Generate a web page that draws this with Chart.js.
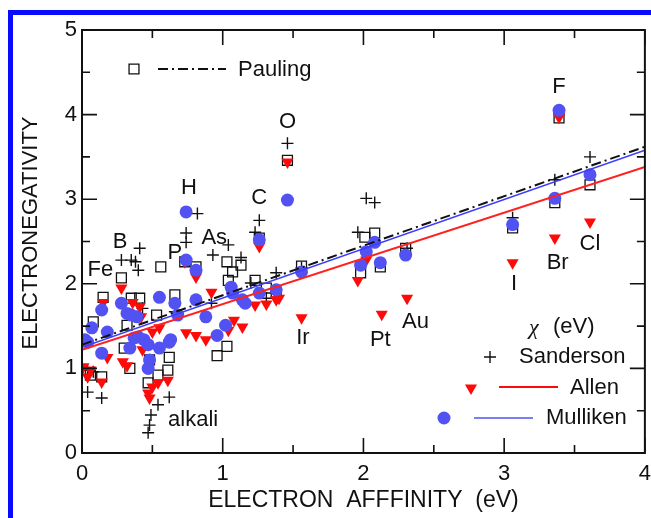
<!DOCTYPE html>
<html>
<head>
<meta charset="utf-8">
<script src="https://cdn.jsdelivr.net/npm/chart.js@4.4.1/dist/chart.umd.min.js"></script>
<style>
  html, body { margin: 0; padding: 0; background: #fff; overflow: hidden; }
  #wrap { position: relative; width: 651px; height: 518px; overflow: hidden; }
  #frame { position: absolute; left: 8px; top: 10px; width: 720px; height: 620px;
           border: 5px solid #0a0aff; box-sizing: border-box; }
  #chart { position: absolute; left: 0; top: 0; }
</style>
</head>
<body>
<div id="wrap">
  <div id="frame"></div>
  <!-- a bit wider than the page so the right frame edge and last tick label run off it -->
  <canvas id="chart" width="659" height="518"></canvas>
</div>
<script>
// electron affinity (eV) vs electronegativity, one [EA, chi] pair per element
const pauling = [
  [3.39,3.96],[3.61,3.17],[3.36,2.96],[3.06,2.66],[1.46,3.46],[1.26,2.54],[2.30,2.42],
  [2.08,2.60],[2.01,2.55],[1.98,2.13],[2.12,2.20],[1.56,2.21],[0.28,2.07],[0.15,1.84],
  [0.35,1.83],[0.41,1.83],[0.08,1.55],[0.32,1.51],[0.30,1.24],[0.34,1.00],[0.56,2.20],
  [0.66,1.87],[0.53,1.63],[0.47,0.83],[0.54,0.92],[0.61,0.98],[0.62,1.13],[0.96,1.15],
  [1.03,1.26],[1.03,2.26],[1.07,2.14],[1.04,2.04],[1.13,2.22],[1.23,2.04],[1.31,1.95],
  [1.38,1.90],[0.73,2.26],[0.81,2.20],[0.06,0.92],[0.14,0.90],[0.48,1.10]
];
const sanderson = [
  [3.39,4.02],[3.61,3.50],[3.36,3.23],[3.06,2.78],[1.46,3.66],[0.82,2.83],[1.26,2.75],
  [1.23,2.61],[1.56,2.19],[2.02,3.01],[2.08,2.96],[1.96,2.61],[2.31,2.42],[0.74,2.60],
  [0.74,2.49],[0.41,2.42],[0.28,2.28],[0.35,2.28],[0.38,2.26],[0.40,2.16],[0.93,2.34],
  [1.04,2.46],[1.13,2.31],[0.04,0.98],[0.08,0.96],[0.04,0.72],[0.14,0.65],[0.62,0.66],
  [0.54,0.57],[0.49,0.45],[0.48,0.33],[0.47,0.24],[0.66,1.67],[0.92,1.77],[0.43,1.71],
  [1.31,1.83],[1.38,2.13],[1.20,2.01]
];
const allen = [
  [3.39,3.97],[3.61,2.73],[3.36,2.54],[3.06,2.25],[1.46,3.44],[1.26,2.44],[1.56,1.60],
  [2.13,1.64],[2.31,1.83],[1.96,2.04],[2.02,2.28],[1.40,1.83],[0.73,2.26],[0.81,2.08],
  [0.28,1.95],[0.15,1.78],[0.36,1.78],[0.41,1.73],[0.42,1.61],[0.18,1.13],[0.29,1.08],
  [0.32,1.03],[0.04,0.90],[0.06,0.98],[0.01,1.02],[0.14,0.84],[0.43,1.22],[0.47,0.71],
  [0.48,0.65],[0.50,0.78],[0.54,0.83],[0.61,0.86],[0.74,1.42],[0.81,1.39],[0.88,1.34],
  [0.92,1.90],[1.04,1.45],[1.08,1.57],[1.14,1.49],[1.23,1.75],[1.31,1.76],[1.38,1.81],
  [1.06,1.90],[0.50,1.43],[0.55,1.48]
];
const mulliken = [
  [3.39,4.05],[3.61,3.29],[3.36,3.01],[3.06,2.70],[1.46,2.99],[0.74,2.85],[1.26,2.52],
  [1.56,2.14],[2.02,2.38],[2.08,2.49],[1.98,2.22],[2.12,2.25],[2.30,2.34],[0.74,2.28],
  [0.81,2.16],[0.14,1.69],[0.28,1.77],[0.32,1.65],[0.35,1.63],[0.39,1.61],[0.18,1.43],
  [0.04,1.31],[0.14,1.18],[0.34,1.24],[0.40,1.37],[0.44,1.34],[0.47,1.28],[0.48,1.10],
  [0.47,1.00],[0.55,1.24],[0.62,1.31],[0.55,1.84],[0.66,1.77],[0.68,1.63],[0.81,1.81],
  [0.88,1.61],[0.96,1.39],[1.02,1.51],[1.06,1.96],[1.07,1.89],[1.14,1.81],[1.16,1.77],
  [1.26,1.89],[1.38,1.93],[0.07,1.48],[0.02,1.34],[0.37,1.36],[0.63,1.34]
];

// linear fits, evaluated at both ends of the EA range
const fitEA = [0, 4];
const paulingFit = [1.28, 3.62];
const allenFit = [1.22, 3.38];
const mullikenFit = [1.25, 3.58];

// element names placed next to their points [text, EA, chi]
const elementLabels = [
  ['F',3.39,4.33],['O',1.46,3.91],['H',0.76,3.13],['C',1.26,3.01],['B',0.27,2.49],
  ['Fe',0.13,2.16],['P',0.66,2.36],['As',0.94,2.54],['Ir',1.57,1.36],['Pt',2.12,1.34],
  ['Au',2.37,1.55],['I',3.07,2.00],['Br',3.38,2.25],['Cl',3.61,2.47],['alkali',0.79,0.39]
];

const xRange = [0, 4];
const yRange = [0, 5];

const FONT = '"Liberation Sans", Arial, sans-serif';
const BLUE = '#5252f2';
const RED = '#ff0a0a';

const toXY = arr => arr.map(([x, y]) => ({ x, y }));
const fitLine = ys => fitEA.map((x, i) => ({ x, y: ys[i] }));

// inward tick marks on all four sides plus the closed frame
const frameTicks = {
  id: 'frameTicks',
  afterDraw(chart) {
    const { ctx, chartArea: a, scales: { x, y } } = chart;
    ctx.save();
    ctx.strokeStyle = '#111';
    ctx.lineWidth = 2;
    ctx.strokeRect(a.left, a.top, a.right - a.left, a.bottom - a.top);
    ctx.lineWidth = 1.6;
    ctx.beginPath();
    for (let v = xRange[0]; v <= xRange[1] + 1e-9; v += 0.5) {
      const px = x.getPixelForValue(v);
      const len = Number.isInteger(v) ? 15 : 8;
      ctx.moveTo(px, a.bottom); ctx.lineTo(px, a.bottom - len);
      ctx.moveTo(px, a.top); ctx.lineTo(px, a.top + len);
    }
    for (let v = yRange[0]; v <= yRange[1] + 1e-9; v += 0.5) {
      const py = y.getPixelForValue(v);
      const len = Number.isInteger(v) ? 15 : 8;
      ctx.moveTo(a.left, py); ctx.lineTo(a.left + len, py);
      ctx.moveTo(a.right, py); ctx.lineTo(a.right - len, py);
    }
    ctx.stroke();
    ctx.restore();
  }
};

// element names, the vertical axis title and the two legend blocks
const annotations = {
  id: 'annotations',
  afterDraw(chart) {
    const { ctx, scales: { x, y } } = chart;
    const dp = Chart.helpers.drawPoint;
    ctx.save();
    ctx.fillStyle = '#111';
    ctx.font = '22px ' + FONT;
    ctx.textBaseline = 'middle';
    ctx.textAlign = 'center';
    elementLabels.forEach(([t, ex, ey]) => {
      ctx.fillText(t, x.getPixelForValue(ex), y.getPixelForValue(ey));
    });

    // y title sits a little above the middle of the axis
    ctx.save();
    ctx.translate(31, 233);
    ctx.rotate(-Math.PI / 2);
    ctx.fillText('ELECTRONEGATIVITY', 0, 0);
    ctx.restore();

    // Pauling legend, upper left
    ctx.strokeStyle = '#111';
    ctx.fillStyle = 'rgba(0,0,0,0)';
    ctx.lineWidth = 1.3;
    dp(ctx, { pointStyle: 'rect', radius: 7, borderWidth: 1.3 }, 134, 69);
    ctx.lineWidth = 2;
    ctx.setLineDash([10, 4, 2, 4]);
    ctx.beginPath(); ctx.moveTo(158, 69); ctx.lineTo(226, 69); ctx.stroke();
    ctx.setLineDash([]);
    ctx.fillStyle = '#111';
    ctx.textAlign = 'left';
    ctx.fillText('Pauling', 238, 70);

    // chi (eV) legend, lower right
    ctx.font = 'italic 22px "Liberation Serif", serif';
    ctx.fillText('\u03c7', 529, 328);
    ctx.font = '22px ' + FONT;
    ctx.fillText('(eV)', 553, 327);
    ctx.fillText('Sanderson', 519, 357);
    ctx.fillText('Allen', 570, 388);
    ctx.fillText('Mulliken', 546, 418);

    ctx.strokeStyle = '#111';
    ctx.lineWidth = 1.4;
    dp(ctx, { pointStyle: 'cross', radius: 6, borderWidth: 1.4 }, 490, 357);

    ctx.fillStyle = RED; ctx.strokeStyle = RED;
    dp(ctx, { pointStyle: 'triangle', radius: 7, rotation: 180, borderWidth: 0 }, 471, 388);
    ctx.lineWidth = 2;
    ctx.beginPath(); ctx.moveTo(499, 387); ctx.lineTo(558, 387); ctx.stroke();

    ctx.fillStyle = BLUE; ctx.strokeStyle = BLUE;
    dp(ctx, { pointStyle: 'circle', radius: 6.5, borderWidth: 0 }, 444, 418);
    ctx.lineWidth = 1.5;
    ctx.beginPath(); ctx.moveTo(474, 418); ctx.lineTo(533, 418); ctx.stroke();
    ctx.restore();
  }
};

new Chart(document.getElementById('chart'), {
  type: 'scatter',
  data: {
    datasets: [
      {
        label: 'Pauling fit', type: 'line', data: fitLine(paulingFit), order: 0,
        borderColor: '#111', borderWidth: 2, borderDash: [10, 4, 2, 4],
        pointRadius: 0, fill: false
      },
      {
        label: 'Mulliken fit', type: 'line', data: fitLine(mullikenFit), order: 0,
        borderColor: '#3c3cff', borderWidth: 1.5, pointRadius: 0, fill: false
      },
      {
        label: 'Allen fit', type: 'line', data: fitLine(allenFit), order: 0,
        borderColor: '#ff2020', borderWidth: 2, pointRadius: 0, fill: false
      },
      {
        label: 'Mulliken', data: toXY(mulliken), order: 1,
        pointStyle: 'circle', pointRadius: 6.5, borderWidth: 0,
        backgroundColor: BLUE, borderColor: BLUE
      },
      {
        label: 'Allen', data: toXY(allen), order: 2,
        pointStyle: 'triangle', pointRotation: 180, pointRadius: 7, borderWidth: 0,
        backgroundColor: RED, borderColor: RED
      },
      {
        label: 'Sanderson', data: toXY(sanderson), order: 3,
        pointStyle: 'cross', pointRadius: 6, borderWidth: 1.4, borderColor: '#111'
      },
      {
        label: 'Pauling', data: toXY(pauling), order: 4,
        pointStyle: 'rect', pointRadius: 7, borderWidth: 1.3,
        borderColor: '#111', backgroundColor: 'rgba(0,0,0,0)'
      }
    ]
  },
  options: {
    responsive: false,
    animation: false,
    devicePixelRatio: 1,
    layout: { padding: { top: 30, right: 0, left: 0, bottom: 0 } },
    plugins: { legend: { display: false }, tooltip: { enabled: false } },
    scales: {
      x: {
        type: 'linear', min: xRange[0], max: xRange[1],
        afterFit(s) { s.height = 65; },
        grid: { display: false, drawTicks: false },
        border: { display: false },
        ticks: { stepSize: 1, padding: 8, color: '#111', font: { family: FONT, size: 22 } },
        title: {
          display: true, text: 'ELECTRON  AFFFINITY  (eV)', color: '#111',
          font: { family: FONT, size: 23 }, padding: { top: 0, bottom: 4 }
        }
      },
      y: {
        type: 'linear', min: yRange[0], max: yRange[1],
        afterFit(s) { s.width = 82; },
        grid: { display: false, drawTicks: false },
        border: { display: false },
        ticks: { stepSize: 1, padding: 5, color: '#111', font: { family: FONT, size: 22 } },
        title: { display: false }
      }
    }
  },
  plugins: [frameTicks, annotations]
});
</script>
</body>
</html>
